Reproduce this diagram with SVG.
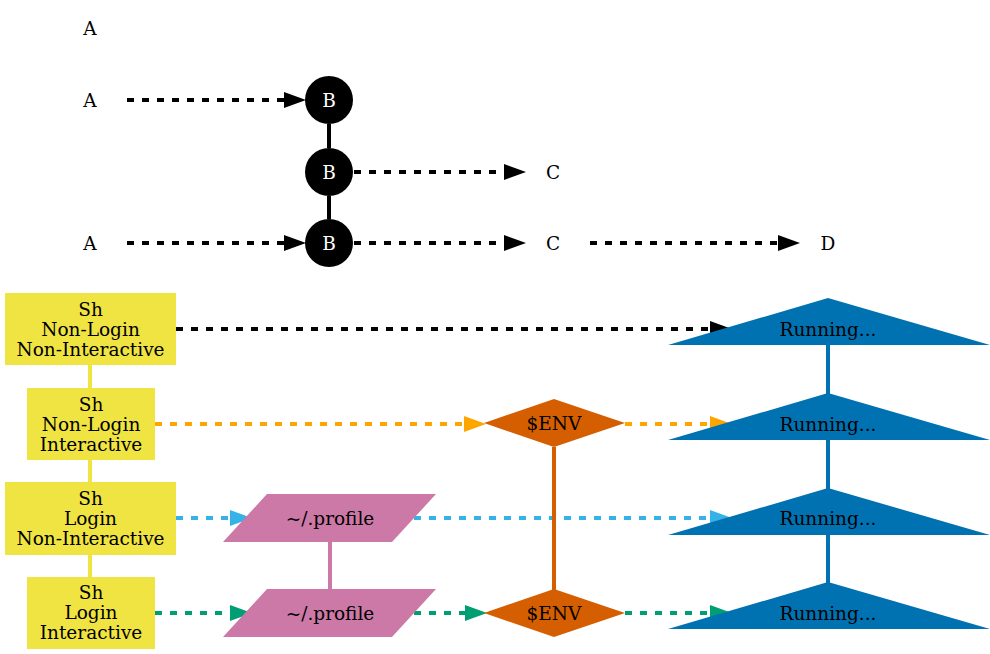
<svg xmlns="http://www.w3.org/2000/svg" width="990" height="654" viewBox="0 0 990 654">
<style>
text{font-family:"DejaVu Serif","Liberation Serif",serif;font-size:18.5px;text-anchor:middle;fill:#000}
.w{fill:#fff}
.d{fill:none;stroke-width:4;stroke-dasharray:7,8}
.s{fill:none;stroke-width:4}
</style>
<defs>
<marker id="hk" markerUnits="userSpaceOnUse" viewBox="0 -8 22 16" markerWidth="22" markerHeight="16" refX="0" refY="0" orient="auto"><path d="M0,-8L22,0L0,8z" fill="#000"/></marker>
<marker id="ho" markerUnits="userSpaceOnUse" viewBox="0 -8 22 16" markerWidth="22" markerHeight="16" refX="0" refY="0" orient="auto"><path d="M0,-8L22,0L0,8z" fill="#FFA500"/></marker>
<marker id="hb" markerUnits="userSpaceOnUse" viewBox="0 -8 22 16" markerWidth="22" markerHeight="16" refX="0" refY="0" orient="auto"><path d="M0,-8L22,0L0,8z" fill="#35B3E8"/></marker>
<marker id="hg" markerUnits="userSpaceOnUse" viewBox="0 -8 22 16" markerWidth="22" markerHeight="16" refX="0" refY="0" orient="auto"><path d="M0,-8L22,0L0,8z" fill="#009E73"/></marker>
</defs>
<rect width="990" height="654" fill="#fff"/>
<g id="connectors">
<path class="d" stroke="#000" marker-end="url(#hk)" d="M127,100H284"/>
<path class="d" stroke="#000" marker-end="url(#hk)" d="M127,243H284"/>
<path class="d" stroke="#000" marker-end="url(#hk)" d="M354,172H504"/>
<path class="d" stroke="#000" marker-end="url(#hk)" d="M354,243H504"/>
<path class="d" stroke="#000" marker-end="url(#hk)" d="M590,243H778"/>
<path class="s" stroke="#000" d="M329,124V148M329,196V219"/>
<path class="s" stroke="#F0E442" stroke-width="5" d="M90,365V388M90,460V482M90,555V577"/>
<path class="s" stroke="#0072B2" d="M828,345V394M828,440V489M828,535V583"/>
<path class="s" stroke="#CC79A7" stroke-width="5" d="M330,542V589"/>
<path class="d" stroke="#000" marker-end="url(#hk)" d="M176,329H710"/>
<path class="d" stroke="#FFA500" marker-end="url(#ho)" d="M155,424H464"/>
<path class="d" stroke="#FFA500" marker-end="url(#ho)" d="M625,424H710"/>
<path class="d" stroke="#35B3E8" marker-end="url(#hb)" d="M176,518H230"/>
<path class="d" stroke="#35B3E8" marker-end="url(#hb)" d="M414,518H710"/>
<path class="d" stroke="#009E73" marker-end="url(#hg)" d="M155,613H230"/>
<path class="d" stroke="#009E73" marker-end="url(#hg)" d="M414,613H465"/>
<path class="d" stroke="#009E73" marker-end="url(#hg)" d="M625,613H710"/>
<path class="s" stroke="#D55E00" d="M554,447V590"/>
</g>
<g id="a0"><text x="90" y="34.5">A</text></g>
<g id="a1"><text x="90" y="106.5">A</text></g>
<g id="a2"><text x="90" y="249.5">A</text></g>
<g id="b0"><circle cx="329" cy="100" r="24"/><text class="w" x="329" y="106.5">B</text></g>
<g id="b1"><circle cx="329" cy="172" r="24"/><text class="w" x="329" y="178.5">B</text></g>
<g id="b2"><circle cx="329" cy="243" r="24"/><text class="w" x="329" y="249.5">B</text></g>
<g id="c0"><text x="553" y="178.5">C</text></g>
<g id="c1"><text x="553" y="249.5">C</text></g>
<g id="d0"><text x="828" y="249.5">D</text></g>
<g id="sh1"><rect x="5" y="293" width="171" height="72" fill="#F0E442"/><text x="90.5" y="315.5">Sh</text><text x="90.5" y="335.5">Non-Login</text><text x="90.5" y="355.5">Non-Interactive</text></g>
<g id="sh2"><rect x="27" y="388" width="128" height="72" fill="#F0E442"/><text x="91" y="410.5">Sh</text><text x="91" y="430.5">Non-Login</text><text x="91" y="450.5">Interactive</text></g>
<g id="sh3"><rect x="5" y="482" width="171" height="73" fill="#F0E442"/><text x="90.5" y="504.5">Sh</text><text x="90.5" y="524.5">Login</text><text x="90.5" y="544.5">Non-Interactive</text></g>
<g id="sh4"><rect x="27" y="577" width="128" height="72" fill="#F0E442"/><text x="91" y="598.5">Sh</text><text x="91" y="618.5">Login</text><text x="91" y="638.5">Interactive</text></g>
<g id="p1"><polygon points="223,542 267,494 436,494 392,542" fill="#CC79A7"/><text x="330" y="524.5">~/.profile</text></g>
<g id="p2"><polygon points="223,637 267,589 436,589 392,637" fill="#CC79A7"/><text x="330" y="619.5">~/.profile</text></g>
<g id="e1"><polygon points="484,423 554,399 625,423 554,447" fill="#D55E00"/><text x="554" y="429.5">$ENV</text></g>
<g id="e2"><polygon points="484,613 554,589 625,613 554,637" fill="#D55E00"/><text x="554" y="619.5">$ENV</text></g>
<g id="r1"><polygon points="828,298 990,345 668,345" fill="#0072B2"/><text x="828" y="335.5">Running...</text></g>
<g id="r2"><polygon points="828,393 990,440 668,440" fill="#0072B2"/><text x="828" y="430.5">Running...</text></g>
<g id="r3"><polygon points="828,488 990,535 668,535" fill="#0072B2"/><text x="828" y="524.5">Running...</text></g>
<g id="r4"><polygon points="828,582 990,629 668,629" fill="#0072B2"/><text x="828" y="619.5">Running...</text></g>
</svg>
